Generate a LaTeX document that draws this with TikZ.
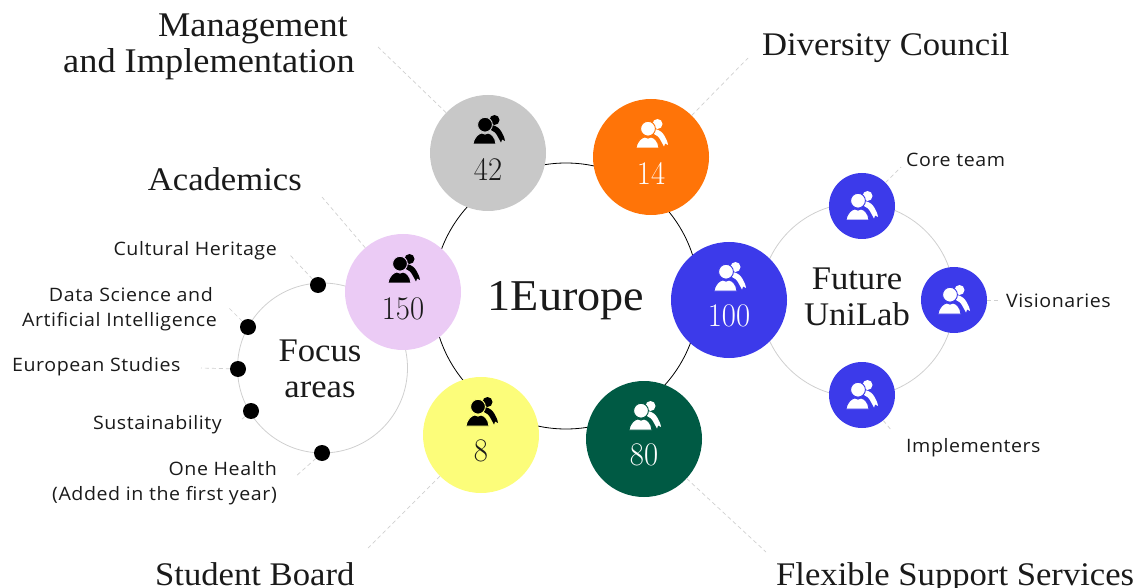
\documentclass[tikz,border=0pt]{standalone}
\usepackage{fontspec}
\setmainfont[FakeStretch=1.05]{Liberation Serif}
\setsansfont[FakeStretch=1.06,LetterSpace=3]{Open Sans}
\newfontfamily\countfont[FakeStretch=0.93]{Latin Modern Roman}
\definecolor{cgrey}{HTML}{C8C8C8}
\definecolor{corange}{HTML}{FF7408}
\definecolor{cblue}{HTML}{3C3AEA}
\definecolor{cgreen}{HTML}{005A44}
\definecolor{cyellow}{HTML}{FCFD7A}
\definecolor{clilac}{HTML}{EBCBF5}
\definecolor{cring}{HTML}{CFCFCF}
\definecolor{cink}{HTML}{1A1A1A}
\tikzset{
  x=1pt,y=-1pt,
  bigdisc/.style={circle,minimum size=116pt,inner sep=0pt,fill=#1},
  smalldisc/.style={circle,minimum size=66pt,inner sep=0pt,fill=cblue},
  dotmark/.style={circle,minimum size=16pt,inner sep=0pt,fill=black},
  ringline/.style={circle,inner sep=0pt,draw=cring,line width=0.8pt},
  leader/.style={draw=cring,line width=0.7pt,dash pattern=on 4pt off 3pt},
  title/.style={font=\fontsize{33}{36.5}\selectfont,text=cink,align=center,inner sep=0pt},
  bigtitle/.style={font=\fontsize{44}{44}\selectfont,text=cink,inner sep=0pt},
  label/.style={font=\sffamily\fontsize{18.5}{24.5}\selectfont,text=cink,inner sep=0pt},
  count/.style={font=\countfont\fontsize{33}{33}\selectfont,inner sep=0pt,text=#1},
  people/.pic={
    \fill[pic actions,draw=none] (7.5,-10) circle (5);
    \fill[pic actions,draw=none] (5,-5) .. controls (10,-4) and (13,-1) .. (14.5,2) .. controls (16,5) and (17.5,7) .. (18,11) -- (15,9.5) -- (14,12.5) -- (11,7) .. controls (9,3) and (7,1) .. (4,0) -- cycle;
    \path[pic actions,line width=0.9pt] (-14,14) .. controls (-12.5,6) and (-8,3.5) .. (-5,3) .. controls (-3.5,4.5) and (-0.5,4.5) .. (1,3) .. controls (5,4) and (8,7) .. (9,14) -- cycle;
    \path[pic actions,line width=0.9pt] (-2,-5.3) circle (7.4);
  }
}
\begin{document}
\begin{tikzpicture}
\useasboundingbox (0,0) rectangle (1141,588);
% rings
\node[ringline,draw=black,minimum size=266pt] (mainring) at (566,296) {};
\node[ringline,minimum size=194pt] (labring) at (857.5,300) {};
\node[ringline,minimum size=170pt] (focusring) at (322.5,368) {};
% big discs
\node[bigdisc=cgrey] (mgmt) at (488,153) {};
\node[bigdisc=corange] (div) at (651,157) {};
\node[bigdisc=cblue] (fut) at (729,300) {};
\node[bigdisc=cgreen] (flex) at (644,439) {};
\node[bigdisc=cyellow] (stud) at (481,435) {};
\node[bigdisc=clilac] (acad) at (403,292) {};
% small discs
\node[smalldisc] (core) at (862,206) {};
\node[smalldisc] (vis) at (954,300) {};
\node[smalldisc] (impl) at (862,395) {};
% dots
\node[dotmark] (d1) at (318,285) {};
\node[dotmark] (d2) at (248,327) {};
\node[dotmark] (d3) at (238,369) {};
\node[dotmark] (d4) at (251,411) {};
\node[dotmark] (d5) at (322,453) {};
% free ends
\coordinate (emgmt) at (378,47);
\coordinate (ediv) at (748,58);
\coordinate (eacad) at (322,197);
\coordinate (estud) at (368,548);
\coordinate (eflex) at (766,552);
\coordinate (ecore) at (901,167);
\coordinate (evis) at (1000,300);
\coordinate (eimpl) at (892,431);
\coordinate (e1) at (289,254);
\coordinate (e2) at (228,307);
\coordinate (e3) at (201,368);
\coordinate (e4) at (240,421);
\coordinate (e5) at (295,477);
\foreach \a/\b in {mgmt/emgmt,div/ediv,acad/eacad,stud/estud,flex/eflex,core/ecore,vis/evis,impl/eimpl,d1/e1,d2/e2,d3/e3,d4/e4,d5/e5}
  \draw[leader] (\a) -- (\b);
% icons
\pic[fill=black,draw=cgrey] at (487,130) {people};
\pic[fill=white,draw=corange] at (650,134) {people};
\pic[fill=white,draw=cblue] at (728,277) {people};
\pic[fill=white,draw=cgreen] at (643,416) {people};
\pic[fill=black,draw=cyellow] at (480,412) {people};
\pic[fill=black,draw=clilac] at (402,269) {people};
\pic[fill=white,draw=cblue] at (860,206) {people};
\pic[fill=white,draw=cblue] at (952,300) {people};
\pic[fill=white,draw=cblue] at (860,395) {people};
% counts
\node[count=cink] (n1) at (488,169) {42};
\node[count=white] (n2) at (651,173) {14};
\node[count=white] (n3) at (729,316) {100};
\node[count=white] (n4) at (644,455) {80};
\node[count=cink] (n5) at (481,451) {8};
\node[count=cink] (n6) at (403,309) {150};
% titles
\node[bigtitle,anchor=base] (t0) at (566,310) {1Europe};
\node[title,anchor=east,align=right,font=\fontsize{34.6}{36.5}\selectfont] (t1) at (355,47) {Management\hspace*{7pt}\\and Implementation};
\node[title,anchor=base west] (t2) at (762,56) {Diversity Council};
\node[title,anchor=base east] (t3) at (302,191) {Academics};
\node[title] (t4) at (320,369) {Focus\\areas};
\node[title] (t5) at (857,297) {Future\\UniLab};
\node[title,anchor=base west] (t6) at (155,585) {Student Board};
\node[title,anchor=base west] (t7) at (776,585) {Flexible Support Services};
% labels
\node[label,anchor=east] (l1) at (277,251) {Cultural Heritage};
\node[label,anchor=east,align=right] (l2) at (217,309) {Data Science and\hspace*{4pt}\\Artificial Intelligence};
\node[label,anchor=west] (l3) at (12,367) {European Studies};
\node[label,anchor=east] (l4) at (222,425) {Sustainability};
\node[label,anchor=east,align=right] (l5) at (277,483) {One Health\\(Added in the first year)};
\node[label,anchor=west] (l6) at (906,160) {Core team};
\node[label,anchor=west] (l7) at (1006,301) {Visionaries};
\node[label,anchor=west] (l8) at (906,448) {Implementers};
\end{tikzpicture}
\end{document}
